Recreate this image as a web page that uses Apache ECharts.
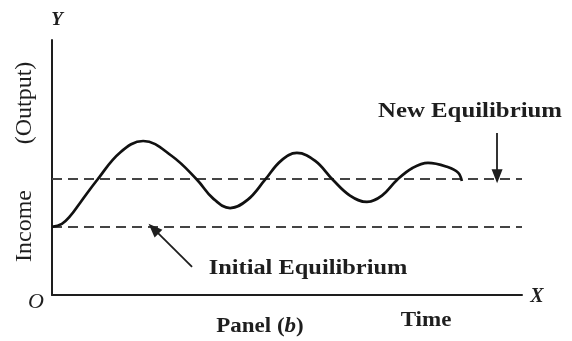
<!DOCTYPE html>
<html>
<head>
<meta charset="utf-8">
<script src="https://cdn.jsdelivr.net/npm/echarts@6/dist/echarts.min.js"></script>
<style>html,body{margin:0;padding:0;background:#fff;}#c{width:572px;height:341px;}</style>
</head>
<body>
<div id="c"></div>
<script>
// Time (arbitrary units 0..100) and income (arbitrary units 0..100)
const timeValues   = [0, 2.1, 3.8, 6.0, 9.6, 14.5, 19.4, 25.5, 30.9, 34.2, 37.9, 41.6, 45.3, 48.7, 52.1, 56.0, 59.8, 63.4, 67.0, 70.2, 73.4, 76.7, 80.0, 84.2, 86.4, 87.2];
const incomeValues = [26.7, 27.9, 30.8, 36.2, 45.1, 55.9, 60.4, 54.5, 45.1, 38.0, 34.1, 37.3, 45.1, 52.6, 55.7, 52.6, 45.1, 39.0, 36.5, 39.0, 45.1, 49.8, 51.8, 50.2, 48.0, 44.7];
const newEquilibrium = 45.5;
const initialEquilibrium = 26.7;
const axisRange = [0, 100];
const newArrow = [[94.7, 63.5], [94.7, 46.6]];
const initialArrow = [[29.8, 11.0], [21.6, 26.0]];

const curve = timeValues.map((t, i) => [t, incomeValues[i]]);
const ink = '#1e1e1e';

const chart = echarts.init(document.getElementById('c'), null, {renderer: 'canvas'});
chart.setOption({
  animation: false,
  backgroundColor: '#ffffff',
  grid: {left: 52, right: 50, top: 40, bottom: 46},
  xAxis: {type: 'value', min: axisRange[0], max: axisRange[1],
    axisLine: {show: true, onZero: false, lineStyle: {color: ink, width: 2}},
    axisTick: {show: false}, axisLabel: {show: false}, splitLine: {show: false}},
  yAxis: {type: 'value', min: axisRange[0], max: axisRange[1],
    axisLine: {show: true, onZero: false, lineStyle: {color: ink, width: 2}},
    axisTick: {show: false}, axisLabel: {show: false}, splitLine: {show: false}},
  series: [
    {type: 'line', data: [[axisRange[0], newEquilibrium], [axisRange[1], newEquilibrium]],
     showSymbol: false, lineStyle: {color: '#444', width: 2, type: [10, 6]}, z: 1},
    {type: 'line', data: [[axisRange[0], initialEquilibrium], [axisRange[1], initialEquilibrium]],
     showSymbol: false, lineStyle: {color: '#444', width: 2, type: [10, 6]}, z: 1},
    {type: 'line', data: curve, smooth: 0.4, showSymbol: false,
     lineStyle: {color: '#111', width: 2.7}, z: 3,
     markLine: {silent: true, symbol: ['none', 'triangle'], symbolSize: [11, 14],
       label: {show: false}, lineStyle: {color: ink, width: 1.8, type: 'solid'},
       data: [
         [{coord: newArrow[0]}, {coord: newArrow[1]}],
         [{coord: initialArrow[0]}, {coord: initialArrow[1]}]
       ]}}
  ],
  graphic: [
    {type: 'text', x: 25, y: 226, rotation: Math.PI / 2,
     style: {text: 'Income', font: '24px "Liberation Serif"', fill: ink, textAlign: 'center', textVerticalAlign: 'middle'}},
    {type: 'text', x: 25, y: 103, rotation: Math.PI / 2,
     style: {text: '(Output)', font: '24px "Liberation Serif"', fill: ink, textAlign: 'center', textVerticalAlign: 'middle'}},
    {type: 'text', x: 57, y: 20,
     style: {text: 'Y', font: 'italic bold 19px "Liberation Serif"', fill: ink, textAlign: 'center', textVerticalAlign: 'middle'}},
    {type: 'text', x: 36, y: 302,
     style: {text: 'O', font: 'italic 22px "Liberation Serif"', fill: ink, textAlign: 'center', textVerticalAlign: 'middle'}},
    {type: 'text', x: 537, y: 297,
     style: {text: 'X', font: 'italic bold 20px "Liberation Serif"', fill: ink, textAlign: 'center', textVerticalAlign: 'middle'}},
    {type: 'text', x: 470, y: 112, scaleX: 1.24,
     style: {text: 'New Equilibrium', font: 'bold 20px "Liberation Serif"', fill: ink, textAlign: 'center', textVerticalAlign: 'middle'}},
    {type: 'text', x: 308, y: 269, scaleX: 1.22,
     style: {text: 'Initial Equilibrium', font: 'bold 20px "Liberation Serif"', fill: ink, textAlign: 'center', textVerticalAlign: 'middle'}},
    {type: 'text', x: 426, y: 321, scaleX: 1.15,
     style: {text: 'Time', font: 'bold 20px "Liberation Serif"', fill: ink, textAlign: 'center', textVerticalAlign: 'middle'}},
    {type: 'text', x: 260, y: 327, scaleX: 1.15,
     style: {text: 'Panel ({i|b})', font: 'bold 20px "Liberation Serif"', fill: ink, textAlign: 'center', textVerticalAlign: 'middle',
       rich: {i: {font: 'italic bold 20px "Liberation Serif"', fill: ink}}}}
  ]
});
</script>
</body>
</html>
